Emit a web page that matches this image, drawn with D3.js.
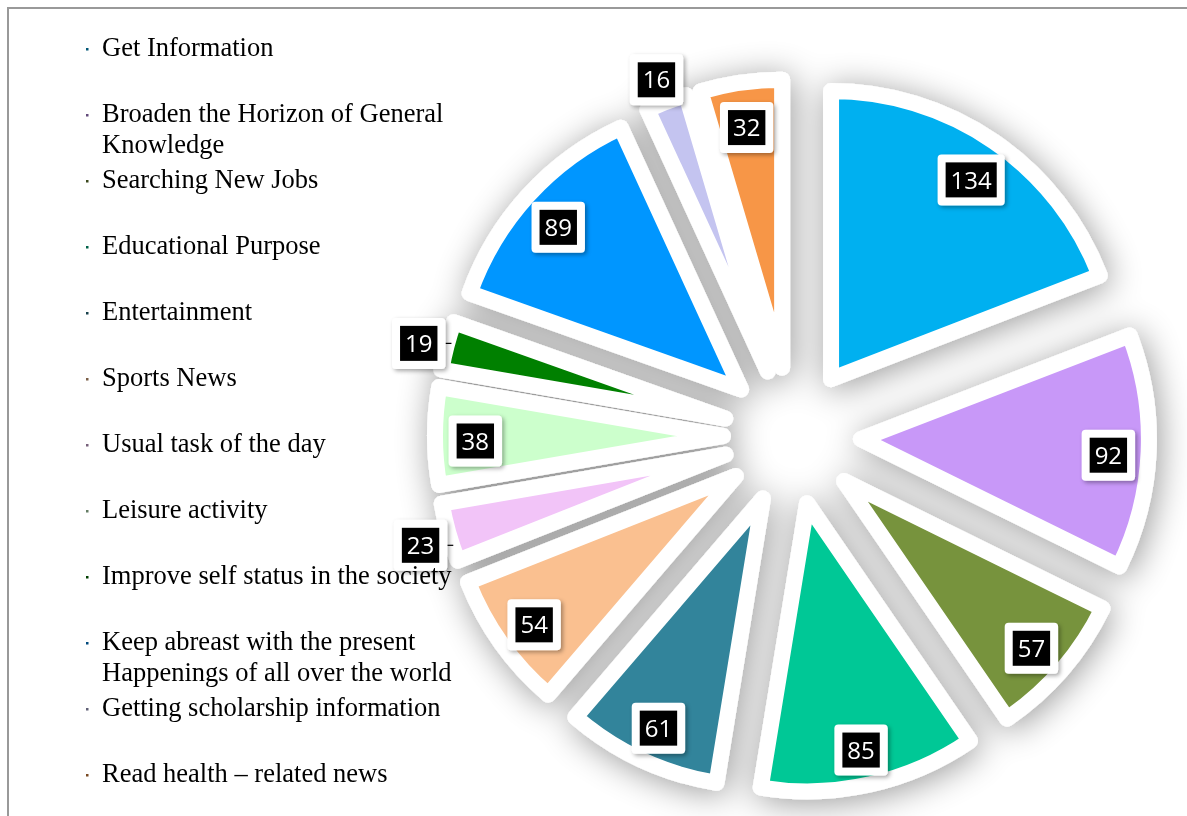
<!DOCTYPE html>
<html>
<head>
<meta charset="utf-8">
<script src="https://cdn.jsdelivr.net/npm/d3@7"></script>
<style>
  html, body { margin: 0; padding: 0; background: #fff; }
  svg { display: block; }
</style>
</head>
<body>
<div id="chart"></div>
<script>
// data, clockwise from 12 o'clock
const categories = [
  'Get Information',
  'Broaden the Horizon of General|Knowledge',
  'Searching New Jobs',
  'Educational Purpose',
  'Entertainment',
  'Sports News',
  'Usual task of the day',
  'Leisure activity',
  'Improve self status in the society',
  'Keep abreast with the present|Happenings of all over the world',
  'Getting scholarship information',
  'Read health \u2013 related news'
];
const values = [134, 92, 57, 85, 61, 54, 23, 38, 19, 89, 16, 32];
const colors = ['#00b0f0', '#c898f8', '#77933c', '#00c896', '#31849b', '#fac090',
  '#f2c4f8', '#ccffcc', '#008000', '#0096ff', '#c4c4f0', '#f79646'];

const width = 1187;
const height = 816;

const cx = 792;
const cy = 436;
const radius = 288;
const explode = 69;

const svg = d3.select('#chart')
  .append('svg')
  .attr('width', width)
  .attr('height', height);

const defs = svg.append('defs');

// soft gray glow under the slices
const glow = defs.append('filter')
  .attr('id', 'glow')
  .attr('x', '-25%').attr('y', '-25%')
  .attr('width', '150%').attr('height', '150%');
glow.append('feGaussianBlur').attr('in', 'SourceAlpha').attr('stdDeviation', 17);
glow.append('feOffset').attr('dx', 3).attr('dy', 4).attr('result', 'blur');
glow.append('feComponentTransfer')
  .append('feFuncA').attr('type', 'linear').attr('slope', 0.4);
const gm = glow.append('feMerge');
gm.append('feMergeNode');
gm.append('feMergeNode').attr('in', 'SourceGraphic');

// small shadow for the label boxes
const lblShadow = defs.append('filter')
  .attr('id', 'lblShadow')
  .attr('x', '-30%').attr('y', '-30%')
  .attr('width', '160%').attr('height', '160%');
lblShadow.append('feDropShadow')
  .attr('dx', 2).attr('dy', 2)
  .attr('stdDeviation', 2)
  .attr('flood-color', '#000')
  .attr('flood-opacity', 0.35);

// frame
svg.append('path')
  .attr('d', `M8,${height} L8,8 L${width},8`)
  .attr('fill', 'none')
  .attr('stroke', '#999')
  .attr('stroke-width', 2);

const pie = d3.pie()
  .sort(null)
  .value(d => d);

const arcs = pie(values);

const arc = d3.arc()
  .innerRadius(0)
  .outerRadius(radius);

function shift(d, dist) {
  const a = (d.startAngle + d.endAngle) / 2;
  return [dist * Math.sin(a), -dist * Math.cos(a)];
}

const root = svg.append('g')
  .attr('transform', `translate(${cx}, ${cy})`);

// small slices get their label outside
const isOutside = d => (d.endAngle - d.startAngle) < 0.22;

const slices = root.append('g')
  .attr('filter', 'url(#glow)');

slices.selectAll('path')
  .data(arcs)
  .enter().append('path')
  .attr('transform', d => `translate(${shift(d, explode)})`)
  .attr('d', arc)
  .attr('fill', (d, i) => colors[i])
  .attr('stroke', '#fff')
  .attr('stroke-width', 16)
  .attr('stroke-linejoin', 'round');

// data labels
const labels = root.append('g')
  .attr('font-family', '"Open Sans", "Noto Sans", sans-serif')
  .attr('font-size', 24);

arcs.forEach((d, i) => {
  const [tx, ty] = shift(d, explode);
  const a = (d.startAngle + d.endAngle) / 2;
  const outside = isOutside(d);
  const r = outside ? radius * 1.1 : radius * 0.86;
  const x = tx + r * Math.sin(a);
  const y = ty - r * Math.cos(a) + 5;

  const txt = String(values[i]);
  const w = txt.length * 13.7 + 10;
  const h = 35;
  const pad = 8;

  // short leader for the side labels
  if (outside && Math.abs(Math.sin(a)) > 0.7) {
    const sx = x + (Math.sin(a) < 0 ? w / 2 + pad : -(w / 2 + pad));
    labels.append('line')
      .attr('x1', sx).attr('y1', y)
      .attr('x2', sx + (Math.sin(a) < 0 ? 6 : -6)).attr('y2', y)
      .attr('stroke', '#000')
      .attr('stroke-width', 1.2);
  }

  const g = labels.append('g')
    .attr('transform', `translate(${x}, ${y})`);
  g.append('rect')
    .attr('x', -w / 2 - pad).attr('y', -h / 2 - pad)
    .attr('width', w + 2 * pad).attr('height', h + 2 * pad)
    .attr('rx', 4)
    .attr('fill', '#fff')
    .attr('filter', 'url(#lblShadow)');
  g.append('rect')
    .attr('x', -w / 2).attr('y', -h / 2)
    .attr('width', w).attr('height', h)
    .attr('fill', '#000');
  g.append('text')
    .attr('text-anchor', 'middle')
    .attr('dy', '0.36em')
    .attr('fill', '#fff')
    .text(txt);
});

// legend
const legend = svg.append('g')
  .attr('font-family', '"Liberation Serif", "Times New Roman", serif')
  .attr('font-size', 26.5)
  .attr('fill', '#000');

categories.forEach((c, i) => {
  const y0 = 47 + i * 66;
  legend.append('rect')
    .attr('x', 86).attr('y', y0 + 1)
    .attr('width', 2.5).attr('height', 2.5)
    .attr('fill', d3.color(colors[i]).darker(2));
  c.split('|').forEach((line, j) => {
    legend.append('text')
      .attr('x', 102)
      .attr('y', y0 + j * 31)
      .attr('dy', '0.35em')
      .text(line);
  });
});
</script>
</body>
</html>
